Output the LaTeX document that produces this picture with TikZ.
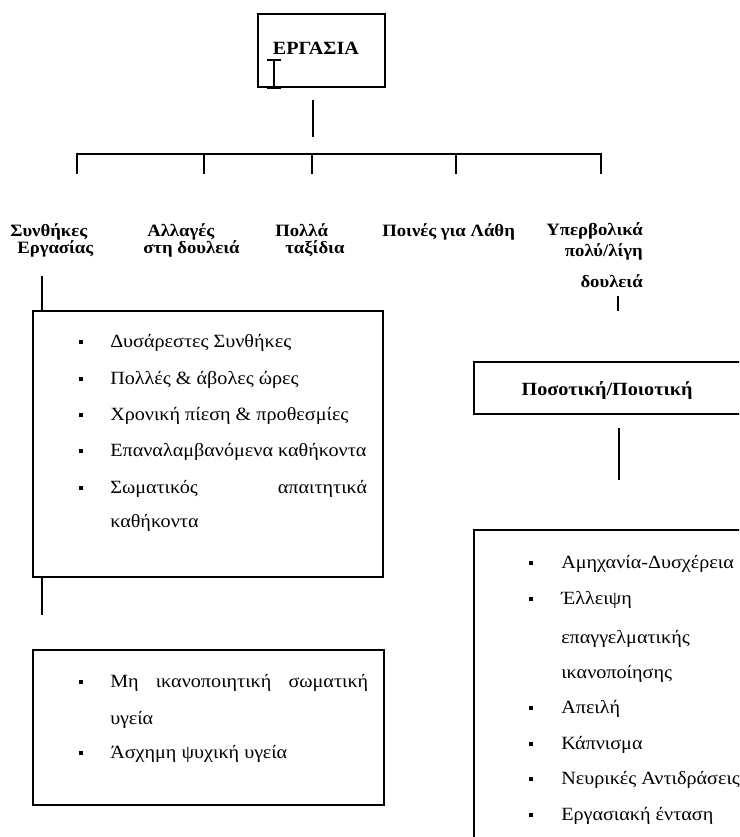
\documentclass[tikz,border=0pt]{standalone}
\usepackage{fontspec}
\setmainfont{Liberation Serif}
\newfontfamily\widefont{Liberation Serif}[FakeStretch=1.08]
\begin{document}
\begin{tikzpicture}[x=0.75pt,y=-0.75pt,
  box/.style={draw, line width=1pt, inner sep=0pt},
  conn/.style={line width=1pt},
  lbl/.style={font=\widefont\fontsize{13}{15}\selectfont\bfseries, inner sep=0pt},
  biglbl/.style={font=\widefont\fontsize{14}{16}\selectfont\bfseries, inner sep=0pt},
  itm/.style={font=\widefont\fontsize{14}{16}\selectfont, inner sep=0pt, anchor=base west},
  bul/.style={fill=black, inner sep=0pt, minimum size=3.6pt, rectangle},
  sbul/.style={fill=black, inner sep=0pt, minimum size=2.4pt, rectangle}]
\clip (0,0) rectangle (739,837);
% top box
\node (top) [box, minimum width=95.25pt, minimum height=54.75pt] at (321.5,50.5) {};
\node (toptext) [biglbl] at (316,48) {ΕΡΓΑΣΙΑ};
% text cursor
\draw[line width=0.9pt] (267,60) -- (281,60) (274,60) -- (274,88) (267,88) -- (281,88);
% trunk and bracket
\coordinate (t1) at (313,100);
\coordinate (t2) at (313,137);
\draw[conn] (t1) -- (t2);
\coordinate (h1) at (77,154);
\coordinate (h2) at (204,154);
\coordinate (h3) at (312,154);
\coordinate (h4) at (456,154);
\coordinate (h5) at (601,154);
\draw[conn] ([yshift=-15pt]h1) -- (h1) -- (h5) -- ([yshift=-15pt]h5);
\draw[conn] (h2) -- ([yshift=-15pt]h2);
\draw[conn] (h3) -- ([yshift=-15pt]h3);
\draw[conn] (h4) -- ([yshift=-15pt]h4);
% category labels
\node (c1a) [lbl, anchor=base west] at (10,237) {Συνθήκες};
\node (c1b) [lbl, anchor=base west] at (17,254) {Εργασίας};
\node (c2a) [lbl, anchor=base west] at (147,237) {Αλλαγές};
\node (c2b) [lbl, anchor=base west] at (143,254) {στη δουλειά};
\node (c3a) [lbl, anchor=base west] at (275,237) {Πολλά};
\node (c3b) [lbl, anchor=base west] at (285,254) {ταξίδια};
\node (c4) [lbl, anchor=base west] at (382,237) {Ποινές για Λάθη};
\node (c5a) [lbl, anchor=base east] at (643,236) {Υπερβολικά};
\node (c5b) [lbl, anchor=base east] at (643,257) {πολύ/λίγη};
\node (c5c) [lbl, anchor=base east] at (643,288) {δουλειά};
% left column
\node (b1) [box, minimum width=262.5pt, minimum height=199.5pt] at (208,444) {};
\coordinate (l1) at (42,276);
\draw[conn] (l1) -- (l1 |- b1.north);
\coordinate (l2) at (42,615);
\draw[conn] (l2 |- b1.south) -- (l2);
\node (b2) [box, minimum width=263.25pt, minimum height=116.25pt] at (208.5,727.5) {};
% box 1 items
\node (p1) [bul] at (81,342) {};
\node (i1) [itm] at (110,347) {Δυσάρεστες Συνθήκες};
\node (p2) [bul] at (81,379) {};
\node (i2) [itm] at (110,384) {Πολλές \& άβολες ώρες};
\node (p3) [bul] at (81,415) {};
\node (i3) [itm] at (110,420) {Χρονική πίεση \& προθεσμίες};
\node (p4) [bul] at (81,451) {};
\node (i4) [itm] at (110,456) {Επαναλαμβανόμενα καθήκοντα};
\node (p5) [sbul] at (81,488) {};
\node (i5) [itm] at (110,493) {\hbox to 192.75pt{Σωματικός\hfill απαιτητικά}};
\node (i6) [itm] at (110,527) {καθήκοντα};
% box 2 items
\node (q1) [bul] at (81,682) {};
\node (j1) [itm] at (110,687) {\hbox to 193.5pt{Μη\hfill ικανοποιητική\hfill σωματική}};
\node (j2) [itm] at (110,724) {υγεία};
\node (q2) [bul] at (81,753) {};
\node (j3) [itm] at (110,758) {Άσχημη ψυχική υγεία};
% right column
\coordinate (r1) at (618,296);
\coordinate (r2) at (618,311);
\draw[conn] (r1) -- (r2);
\node (rb1) [box, minimum width=214.5pt, minimum height=39pt] at (617,388) {};
\node (rb1t) [biglbl] at (607,391) {Ποσοτική/Ποιοτική};
\coordinate (r3) at (619,428);
\coordinate (r4) at (619,480);
\draw[conn] (r3) -- (r4);
\node (rb2) [box, minimum width=214.5pt, minimum height=247.5pt] at (617,695) {};
\node (s1) [bul] at (531,563) {};
\node (k1) [itm] at (561,568) {Αμηχανία-Δυσχέρεια};
\node (s2) [bul] at (531,599) {};
\node (k2) [itm] at (561,604) {Έλλειψη};
\node (k3) [itm] at (561,643) {επαγγελματικής};
\node (k4) [itm] at (561,678) {ικανοποίησης};
\node (s5) [bul] at (531,708) {};
\node (k5) [itm] at (561,713) {Απειλή};
\node (s6) [bul] at (531,744) {};
\node (k6) [itm] at (561,749) {Κάπνισμα};
\node (s7) [bul] at (531,779) {};
\node (k7) [itm] at (561,784) {Νευρικές Αντιδράσεις};
\node (s8) [bul] at (531,815) {};
\node (k8) [itm] at (561,820) {Εργασιακή ένταση};
\end{tikzpicture}
\end{document}
